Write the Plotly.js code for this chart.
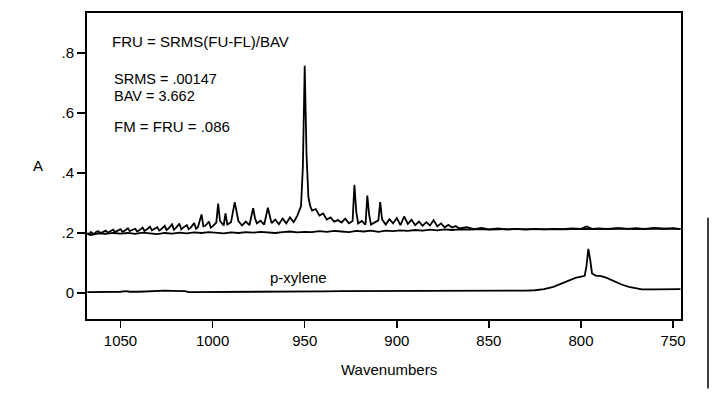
<!DOCTYPE html>
<html>
<head>
<meta charset="utf-8">
<script src="https://cdn.plot.ly/plotly-3.0.1.min.js"></script>
<style>html,body{margin:0;padding:0;background:#fff;}#chart{width:727px;height:396px;}</style>
</head>
<body>
<div id="chart"></div>
<script>
// Sample spectrum (upper, noisy with peaks)
const sampleWn = [1068,1067,1066,1065,1064,1063,1062,1061,1060,1058,1057,1056,1054,1053,1052,1050,1049,1048,1046,1045,1044,1042,1041,1040,1038,1037,1036,1034,1033,1032,1030,1029,1028,1026,1025,1024,1022,1021,1020,1018,1017,1016,1014,1013,1012,1010,1009,1008,1006,1005,1004,1002,1001,1000,998,997,996,994,993,992,990,988,987,986,984,982,980,978,977,976,974,972,970,969,968,966,964,962,960,958,956,954,952,951,950,949,948,947,946,944,942,940,938,936,934,932,930,928,926,924,923,922,921,919,917,916,915,914,912,910,909,908,906,904,902,900,898,896,894,892,890,888,886,884,882,880,878,876,874,872,870,868,866,862,858,854,850,845,840,835,830,825,820,815,810,805,800,797,794,790,785,780,775,770,765,760,755,750,746];
const sampleA = [0.200,0.196,0.203,0.198,0.199,0.205,0.206,0.200,0.202,0.208,0.201,0.204,0.211,0.203,0.206,0.213,0.204,0.207,0.216,0.206,0.209,0.214,0.205,0.208,0.218,0.207,0.211,0.221,0.209,0.213,0.219,0.208,0.212,0.224,0.210,0.215,0.229,0.211,0.216,0.231,0.212,0.218,0.226,0.213,0.217,0.233,0.214,0.219,0.262,0.222,0.224,0.238,0.218,0.222,0.235,0.298,0.240,0.225,0.265,0.228,0.236,0.303,0.270,0.240,0.225,0.238,0.226,0.283,0.250,0.232,0.241,0.228,0.284,0.255,0.233,0.245,0.229,0.248,0.232,0.252,0.236,0.258,0.290,0.420,0.758,0.460,0.320,0.290,0.275,0.280,0.258,0.265,0.245,0.252,0.238,0.243,0.235,0.248,0.232,0.240,0.361,0.270,0.232,0.240,0.228,0.325,0.260,0.228,0.236,0.242,0.303,0.245,0.228,0.246,0.232,0.250,0.226,0.255,0.230,0.244,0.226,0.238,0.224,0.236,0.225,0.243,0.222,0.232,0.219,0.227,0.218,0.223,0.215,0.219,0.213,0.217,0.212,0.215,0.211,0.214,0.211,0.214,0.212,0.214,0.213,0.215,0.214,0.222,0.214,0.215,0.213,0.216,0.214,0.216,0.213,0.217,0.214,0.216,0.213];

// Background spectrum (near 0.2)
const backWn = [1068,1066,1062,1058,1054,1050,1046,1042,1038,1034,1030,1026,1022,1018,1014,1010,1006,1002,998,994,990,986,982,978,974,970,966,962,958,954,950,946,942,938,934,930,926,922,918,914,910,906,902,898,894,890,886,882,878,874,870,866,860,855,850,840,830,820,810,800,790,780,770,760,746];
const backA = [0.196,0.193,0.199,0.197,0.200,0.198,0.200,0.197,0.201,0.199,0.196,0.200,0.198,0.201,0.199,0.202,0.200,0.203,0.201,0.199,0.202,0.200,0.203,0.201,0.204,0.202,0.200,0.203,0.205,0.202,0.204,0.203,0.206,0.204,0.207,0.205,0.203,0.207,0.205,0.208,0.204,0.208,0.206,0.209,0.207,0.210,0.208,0.211,0.209,0.212,0.210,0.212,0.211,0.213,0.211,0.213,0.212,0.213,0.212,0.214,0.213,0.215,0.213,0.215,0.214];

// p-xylene reference spectrum
const pxWn = [1068,1060,1055,1050,1047,1045,1040,1035,1031,1029,1026,1022,1015,1013,1005,1000,990,980,970,960,950,940,930,920,910,900,890,880,870,860,850,840,830,825,820,815,810,806,803,800,798,797,796,795,794,792,789,786,782,778,774,770,767,760,750,746];
const pxA = [0.003,0.003,0.004,0.004,0.006,0.004,0.004,0.005,0.008,0.007,0.008,0.007,0.006,0.003,0.003,0.003,0.004,0.004,0.004,0.005,0.005,0.005,0.006,0.006,0.006,0.006,0.006,0.007,0.007,0.007,0.008,0.008,0.008,0.009,0.013,0.020,0.032,0.043,0.050,0.054,0.057,0.090,0.147,0.110,0.065,0.058,0.056,0.050,0.039,0.028,0.020,0.015,0.012,0.012,0.013,0.013];

const xTickVals = [1050,1000,950,900,850,800,750];
const xTickText = ['1050','1000','950','900','850','800','750'];
const yTickVals = [0,0.2,0.4,0.6,0.8];
const yTickText = ['0','.2','.4','.6','.8'];

const FONT = 'Liberation Sans, Arial, Helvetica, sans-serif';
const lineStyle = {color:'#000', width:1.8};

const traces = [
  {x: backWn, y: backA, type:'scatter', mode:'lines', line:lineStyle, hoverinfo:'skip'},
  {x: sampleWn, y: sampleA, type:'scatter', mode:'lines', line:lineStyle, hoverinfo:'skip'},
  {x: pxWn, y: pxA, type:'scatter', mode:'lines', line:lineStyle, hoverinfo:'skip'}
];

const txt = (t, x, y, xa, size) => ({text:t, xref:'paper', yref:'paper', x:x, y:y, xanchor:xa||'left', yanchor:'middle', showarrow:false, font:{family:FONT, size:size||15, color:'#000'}});
// paper helpers: plot area 87..681 px horizontally, 13..319.5 px vertically
const px = v => (v-87)/594;
const py = v => (319.5-v)/306.5;

const layout = {
  width:727, height:396,
  margin:{l:87, r:46, t:13, b:76.5, pad:0},
  paper_bgcolor:'#fff', plot_bgcolor:'#fff',
  showlegend:false,
  font:{family:FONT, size:15, color:'#000'},
  xaxis:{range:[1068.2,745.7], autorange:false, tickvals:xTickVals, ticktext:xTickText,
    ticks:'outside', ticklen:7, tickwidth:1.5, tickcolor:'#000', showline:true, linewidth:2, linecolor:'#000', mirror:true,
    showgrid:false, zeroline:false, tickfont:{family:FONT, size:15, color:'#000'}},
  yaxis:{range:[-0.087,0.934], autorange:false, tickvals:yTickVals, ticktext:yTickText,
    ticks:'outside', ticklen:8, tickwidth:1.5, tickcolor:'#000', showline:true, linewidth:2, linecolor:'#000', mirror:true,
    showgrid:false, zeroline:false, tickfont:{family:FONT, size:15, color:'#000'}},
  annotations:[
    txt('FRU = SRMS(FU-FL)/BAV', px(110), py(42)),
    txt('SRMS = .00147', px(112), py(79), 'left', 14.5),
    txt('BAV = 3.662', px(112), py(96), 'left', 14.5),
    txt('FM = FRU = .086', px(112), py(127)),
    txt('p-xylene', px(298), py(278), 'center'),
    txt('Wavenumbers', px(389), py(370), 'center'),
    txt('A', px(38), py(166), 'center')
  ],
  shapes:[
    {type:'line', xref:'paper', yref:'paper', x0:px(708), x1:px(708), y0:py(218), y1:py(389), line:{color:'#000', width:1.5}}
  ]
};

Plotly.newPlot('chart', traces, layout, {staticPlot:true, displayModeBar:false});
</script>
</body>
</html>
